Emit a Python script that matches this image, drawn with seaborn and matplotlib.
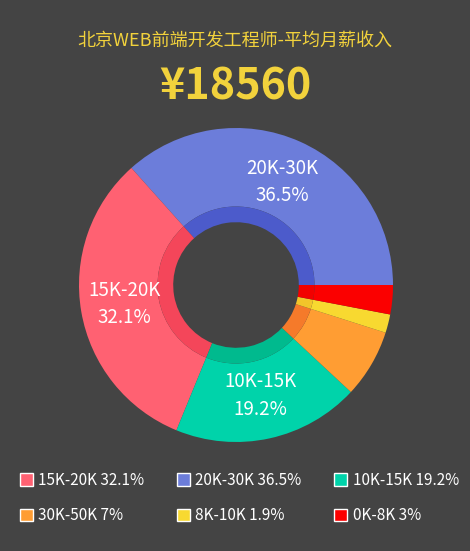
import matplotlib
matplotlib.use('Agg')
import matplotlib.pyplot as plt
import matplotlib.patches as mpatches
import seaborn as sns

# dados
categorias = ['20K-30K', '15K-20K', '10K-15K', '30K-50K', '8K-10K', '0K-8K']
percentuais = [36.5, 32.1, 19.2, 7, 1.9, 3]
cores = ['#6c7dda', '#ff6172', '#00d3aa', '#ff9d33', '#f8d930', '#fb0000']
cores_anel = ['#4c5bcb', '#f4465a', '#00ba8e', '#f57a2a', '#f2c52a', '#f20000']
rotulos_visiveis = ['20K-30K', '15K-20K', '10K-15K']
ordem_legenda = ['15K-20K', '20K-30K', '10K-15K', '30K-50K', '8K-10K', '0K-8K']

titulo = '北京WEB前端开发工程师-平均月薪收入'
valor_medio = '¥18560'

fundo = '#444444'
amarelo = '#f2d23c'

sns.set_theme(style='dark', rc={'figure.facecolor': fundo, 'axes.facecolor': fundo})
plt.rcParams['font.family'] = ['Noto Sans CJK SC', 'DejaVu Sans']

fig = plt.figure(figsize=(4.7, 5.51), dpi=100)
fig.patch.set_facecolor(fundo)

W, H = 470, 551
cx, cy, R = 236, 266, 157
ax = fig.add_axes([(cx - R) / W, (cy - R) / H, 2 * R / W, 2 * R / H])
ax.set_facecolor(fundo)

labels = [f'{c}\n{p}%' if c in rotulos_visiveis else '' for c, p in zip(categorias, percentuais)]

# Anel externo
wedges, textos = ax.pie(percentuais, colors=cores, radius=1.0, startangle=0,
                        counterclock=True, labels=labels, labeldistance=0.72,
                        wedgeprops=dict(width=0.5, linewidth=0),
                        textprops=dict(color='white', fontsize=13.5))
for t in textos:
    t.set_ha('center')
    t.set_va('center')
    t.set_linespacing(1.4)

# Anel interno mais escuro
ax.pie(percentuais, colors=cores_anel, radius=0.5, startangle=0,
       counterclock=True, wedgeprops=dict(width=0.1, linewidth=0))

ax.set_xlim(-1, 1)
ax.set_ylim(-1, 1)
ax.set_aspect('equal')
ax.axis('off')

# Título
fig.text(0.5, 1 - 41 / H, titulo, color=amarelo, fontsize=13, ha='center', va='center')
fig.text(0.5, 1 - 86 / H, valor_medio, color=amarelo, fontsize=31, fontweight='bold',
         ha='center', va='center')

# Legenda (3 colunas, preenchida por coluna)
mapa_cor = dict(zip(categorias, cores))
mapa_pct = dict(zip(categorias, percentuais))
handles = [mpatches.Patch(facecolor=mapa_cor[c], label=f'{c} {mapa_pct[c]}%') for c in ordem_legenda]
ordem = [0, 3, 1, 4, 2, 5]
handles = [handles[i] for i in ordem]
leg = fig.legend(handles=handles, ncol=3, loc='center left',
                 bbox_to_anchor=(6 / W, 1 - 498 / H), frameon=False,
                 fontsize=11, labelcolor='white', handlelength=0.85, handleheight=0.85,
                 handletextpad=0.35, columnspacing=2.15, labelspacing=1.2)

fig.savefig('out.png', dpi=100, facecolor=fundo)
